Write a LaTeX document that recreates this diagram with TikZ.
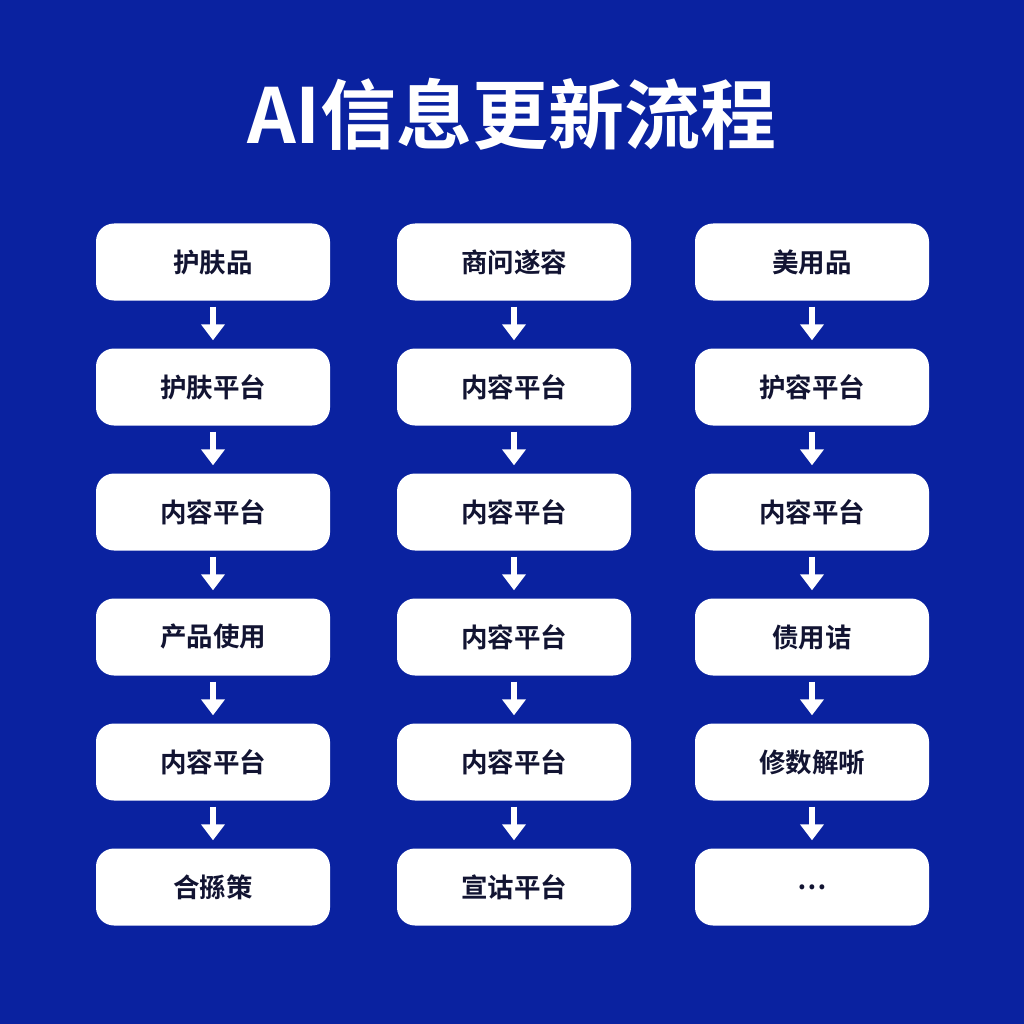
\documentclass[tikz,border=0pt]{standalone}
\usepackage{fontspec}
\newfontfamily\cjk{Noto Sans CJK SC}[BoldFont={* Bold}]
\usetikzlibrary{arrows.meta}
\definecolor{bg}{RGB}{10,34,160}
\definecolor{ink}{RGB}{18,20,50}
\tikzset{
  box/.style={fill=white, rounded corners=18pt, minimum width=234pt, minimum height=77pt, inner sep=0pt, text=ink, font=\cjk\bfseries\fontsize{26.5}{30}\selectfont},
  flow/.style={draw=white, line width=6pt, -{Triangle[width=23pt,length=16pt]}, shorten <=6pt, shorten >=8pt}
}
\begin{document}
\begin{tikzpicture}[x=1pt,y=-1pt]
\fill[bg] (0,0) rectangle (1024,1024);
\useasboundingbox (0,0) rectangle (1024,1024);
\node[text=white, font=\cjk\bfseries\fontsize{76}{80}\selectfont] (title) at (512,114) {AI信息更新流程};
\foreach \c/\x in {1/213,2/514,3/812}{
  \foreach \r/\y in {1/262,2/387,3/512,4/637,5/762,6/887}{
    \coordinate (p\c\r) at (\x,\y);
  }
}
\node[box] (a1) at (p11) {护肤品};
\node[box] (a2) at (p12) {护肤平台};
\node[box] (a3) at (p13) {内容平台};
\node[box] (a4) at (p14) {产品使用};
\node[box] (a5) at (p15) {内容平台};
\node[box] (a6) at (p16) {合搎策};
\node[box] (b1) at (p21) {商问遂容};
\node[box] (b2) at (p22) {内容平台};
\node[box] (b3) at (p23) {内容平台};
\node[box] (b4) at (p24) {内容平台};
\node[box] (b5) at (p25) {内容平台};
\node[box] (b6) at (p26) {宣诂平台};
\node[box] (c1) at (p31) {美用品};
\node[box] (c2) at (p32) {护容平台};
\node[box] (c3) at (p33) {内容平台};
\node[box] (c4) at (p34) {债用诘};
\node[box] (c5) at (p35) {修数解哳};
\node[box] (c6) at (p36) {…};
\foreach \k in {a,b,c}{
  \draw[flow] (\k1) -- (\k2);
  \draw[flow] (\k2) -- (\k3);
  \draw[flow] (\k3) -- (\k4);
  \draw[flow] (\k4) -- (\k5);
  \draw[flow] (\k5) -- (\k6);
}
\end{tikzpicture}
\end{document}
